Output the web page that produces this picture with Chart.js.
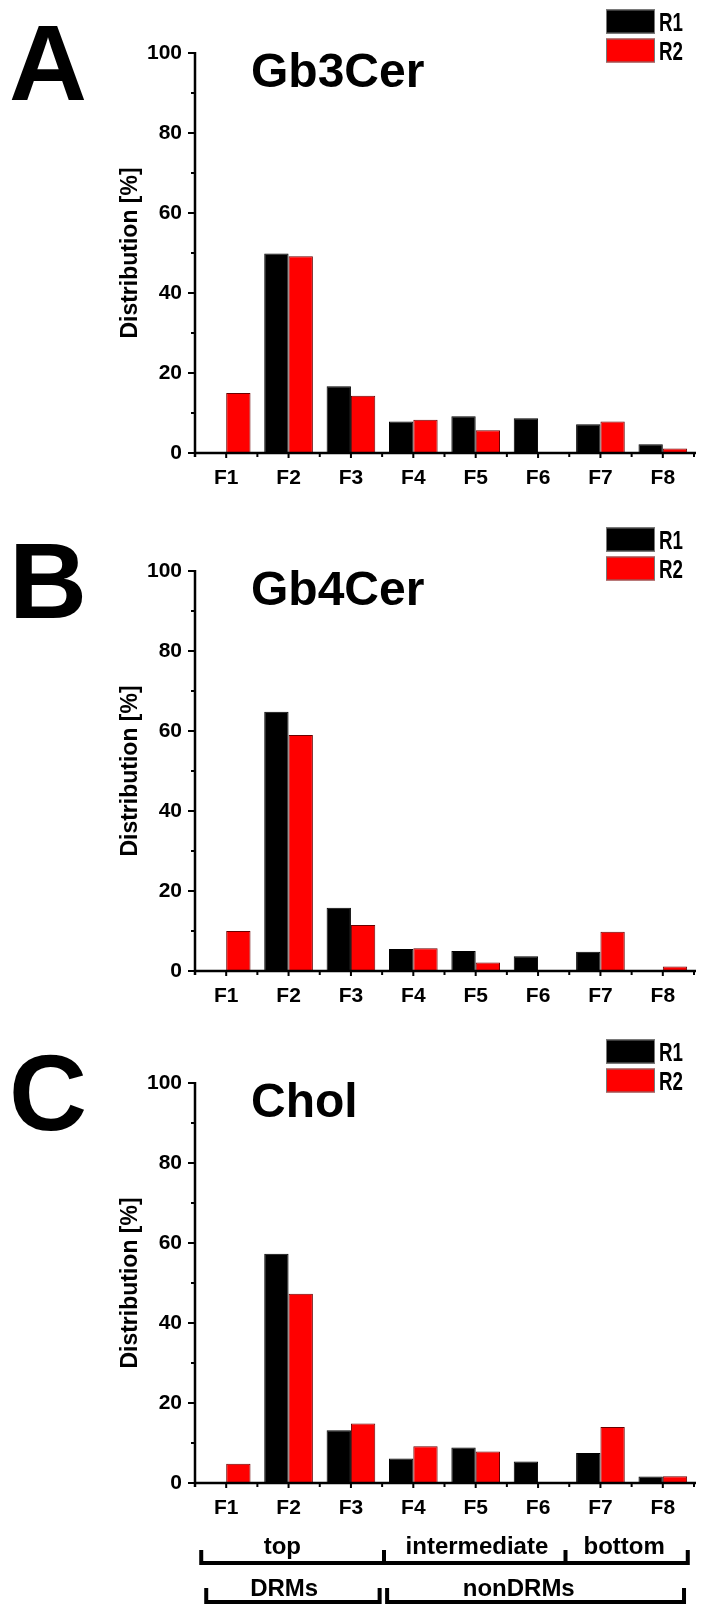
<!DOCTYPE html>
<html><head><meta charset="utf-8">
<script src="https://cdn.jsdelivr.net/npm/chart.js@4.4.1/dist/chart.umd.min.js"></script>
<style>
html,body{margin:0;padding:0;background:#fff;}
body{width:702px;height:1616px;position:relative;overflow:hidden;}
canvas{position:absolute;left:0;display:block;}
</style></head><body>
<canvas id="cA" width="702" height="510" style="top:0px"></canvas>
<canvas id="cB" width="702" height="510" style="top:518px"></canvas>
<canvas id="cC" width="702" height="586" style="top:1030px"></canvas>
<script>
// ---- data ----
const categories = ['F1','F2','F3','F4','F5','F6','F7','F8'];
const seriesNames = ['R1','R2'];
const gb3R1 = [0, 49.9, 16.7, 7.9, 9.2, 8.7, 7.2, 2.2];
const gb3R2 = [15.0, 49.2, 14.3, 8.3, 5.7, 0, 7.9, 1.1];
const gb4R1 = [0, 64.8, 15.8, 5.5, 5.0, 3.7, 4.8, 0];
const gb4R2 = [10.0, 59.0, 11.5, 5.7, 2.1, 0, 9.8, 1.1];
const cholR1 = [0, 57.3, 13.2, 6.1, 8.9, 5.4, 7.5, 1.6];
const cholR2 = [4.8, 47.3, 14.9, 9.2, 7.9, 0, 14.0, 1.7];
const yMin = 0, yMax = 100, yMajorStep = 20, yMinorStep = 10;
const panelLetters = ['A','B','C'];
const panelTitles = ['Gb3Cer','Gb4Cer','Chol'];
const yAxisTitle = 'Distribution [%]';
// bracket rows (in category units: F1 = 0 ... F8 = 7)
const regionLabels = ['top','intermediate','bottom'];
const regionEdges = [-0.40, 2.53, 5.44, 7.40];
const regionTextAt = [0.90, 4.02, 6.38];
const fractionLabels = ['DRMs','nonDRMs'];
const fractionSpans = [[-0.32, 2.46], [2.58, 7.34]];
const fractionTextAt = [0.93, 4.69];

const FONT = "'Liberation Sans', Arial, Helvetica, sans-serif";
Chart.defaults.font.family = FONT;
Chart.defaults.color = '#000';

const CHART_TOP = 53, PLOT_H = 400, Y_AXIS_W = 195, RIGHT_PAD = 8;

const axesPlugin = {
  id: 'originAxes',
  afterDatasetsDraw(chart) {
    const {ctx, chartArea: a, scales: {x, y}} = chart;
    ctx.save();
    ctx.strokeStyle = '#000';
    ctx.lineWidth = 2.5;
    ctx.beginPath();
    ctx.moveTo(a.left, a.top - 1); ctx.lineTo(a.left, a.bottom + 4);
    ctx.moveTo(a.left - 1, a.bottom); ctx.lineTo(a.right + 2, a.bottom);
    ctx.stroke();
    ctx.lineWidth = 2;
    ctx.beginPath();
    for (let v = yMin; v <= yMax; v += yMinorStep) {
      const py = y.getPixelForValue(v);
      const len = (v % yMajorStep === 0) ? 7 : 4;
      ctx.moveTo(a.left - len, py); ctx.lineTo(a.left, py);
    }
    for (let i = 0; i < categories.length; i++) {
      const px = x.getPixelForValue(i);
      ctx.moveTo(px, a.bottom); ctx.lineTo(px, a.bottom + 5);
    }
    for (let i = 0; i <= categories.length; i++) {
      const px = x.getPixelForValue(i - 0.5);
      ctx.moveTo(px, a.bottom); ctx.lineTo(px, a.bottom + 4);
    }
    ctx.stroke();
    ctx.restore();
  }
};

const decorPlugin = {
  id: 'decor',
  afterDraw(chart, args, opts) {
    const {ctx, chartArea: a} = chart;
    ctx.save();
    // panel letter
    ctx.fillStyle = '#000';
    ctx.textAlign = 'center';
    ctx.textBaseline = 'alphabetic';
    ctx.font = "bold 108px " + FONT;
    ctx.fillText(opts.letter, 48, a.top + 47);
    // title
    ctx.textAlign = 'left';
    ctx.font = "bold 48px " + FONT;
    ctx.fillText(opts.title, 251, a.top + 34);
    // legend
    chart.data.datasets.forEach((ds, i) => {
      const bx = 606, by = a.top - 43.5 + i * 29;
      ctx.fillStyle = ds.backgroundColor;
      ctx.fillRect(bx, by, 49, 24);
      ctx.strokeStyle = '#777';
      ctx.lineWidth = 1;
      ctx.strokeRect(bx + 0.5, by + 0.5, 48, 23);
      ctx.fillStyle = '#000';
      ctx.font = "bold 25px " + FONT;
      ctx.textBaseline = 'alphabetic';
      ctx.save();
      ctx.translate(659, by + 21);
      ctx.scale(0.75, 1);
      ctx.fillText(ds.label, 0, 0);
      ctx.restore();
    });
    // brackets (only panel C)
    if (opts.brackets) {
      const x = chart.scales.x;
      const b = a.bottom;
      ctx.strokeStyle = '#000';
      ctx.lineWidth = 4;
      ctx.lineCap = 'butt';
      ctx.lineJoin = 'miter';
      // row 1
      const y1 = b + 80, y1t = b + 67;
      ctx.beginPath();
      ctx.moveTo(x.getPixelForValue(regionEdges[0]), y1);
      ctx.lineTo(x.getPixelForValue(regionEdges[regionEdges.length - 1]), y1);
      regionEdges.forEach(e => {
        const px = x.getPixelForValue(e);
        ctx.moveTo(px, y1t); ctx.lineTo(px, y1 + 2);
      });
      ctx.stroke();
      ctx.font = "bold 24px " + FONT;
      ctx.textAlign = 'center';
      ctx.fillStyle = '#000';
      regionLabels.forEach((t, i) => ctx.fillText(t, x.getPixelForValue(regionTextAt[i]), b + 71));
      // row 2
      const y2 = b + 119, y2t = b + 105;
      ctx.beginPath();
      fractionSpans.forEach(([s, e]) => {
        const ps = x.getPixelForValue(s), pe = x.getPixelForValue(e);
        ctx.moveTo(ps, y2t); ctx.lineTo(ps, y2); ctx.lineTo(pe, y2); ctx.lineTo(pe, y2t);
      });
      ctx.stroke();
      fractionLabels.forEach((t, i) => ctx.fillText(t, x.getPixelForValue(fractionTextAt[i]), b + 113));
    }
    ctx.restore();
  }
};

function makeChart(id, idx, r1, r2, brackets) {
  const canvas = document.getElementById(id);
  const H = canvas.height;
  return new Chart(canvas, {
    type: 'bar',
    data: {
      labels: categories,
      datasets: [
        {label: seriesNames[0], data: r1, backgroundColor: '#000000', borderColor: '#000000', borderWidth: 1},
        {label: seriesNames[1], data: r2, backgroundColor: '#ff0000', borderColor: '#6a0000', borderWidth: 1}
      ]
    },
    options: {
      responsive: false,
      animation: false,
      events: [],
      layout: {padding: {left: 0, right: RIGHT_PAD, top: CHART_TOP, bottom: 0}},
      datasets: {bar: {categoryPercentage: 0.78, barPercentage: 1.0}},
      plugins: {
        legend: {display: false},
        tooltip: {enabled: false},
        decor: {letter: panelLetters[idx], title: panelTitles[idx], brackets: brackets}
      },
      scales: {
        x: {
          type: 'category', offset: true,
          grid: {display: false, drawTicks: false},
          border: {display: false},
          ticks: {color: '#000', font: {size: 21, weight: 'bold'}, padding: 13, maxRotation: 0, autoSkip: false},
          afterFit(s) { s.height = H - CHART_TOP - PLOT_H; }
        },
        y: {
          min: yMin, max: yMax,
          grid: {display: false, drawTicks: false},
          border: {display: false},
          ticks: {stepSize: yMajorStep, color: '#000', font: {size: 21, weight: 'bold'}, padding: 13},
          title: {display: true, text: yAxisTitle, color: '#000', font: {size: 23, weight: 'bold'}, padding: {top: 117, bottom: 0}},
          afterFit(s) { s.width = Y_AXIS_W; }
        }
      }
    },
    plugins: [axesPlugin, decorPlugin]
  });
}

makeChart('cA', 0, gb3R1, gb3R2, false);
makeChart('cB', 1, gb4R1, gb4R2, false);
makeChart('cC', 2, cholR1, cholR2, true);
</script>
</body></html>
